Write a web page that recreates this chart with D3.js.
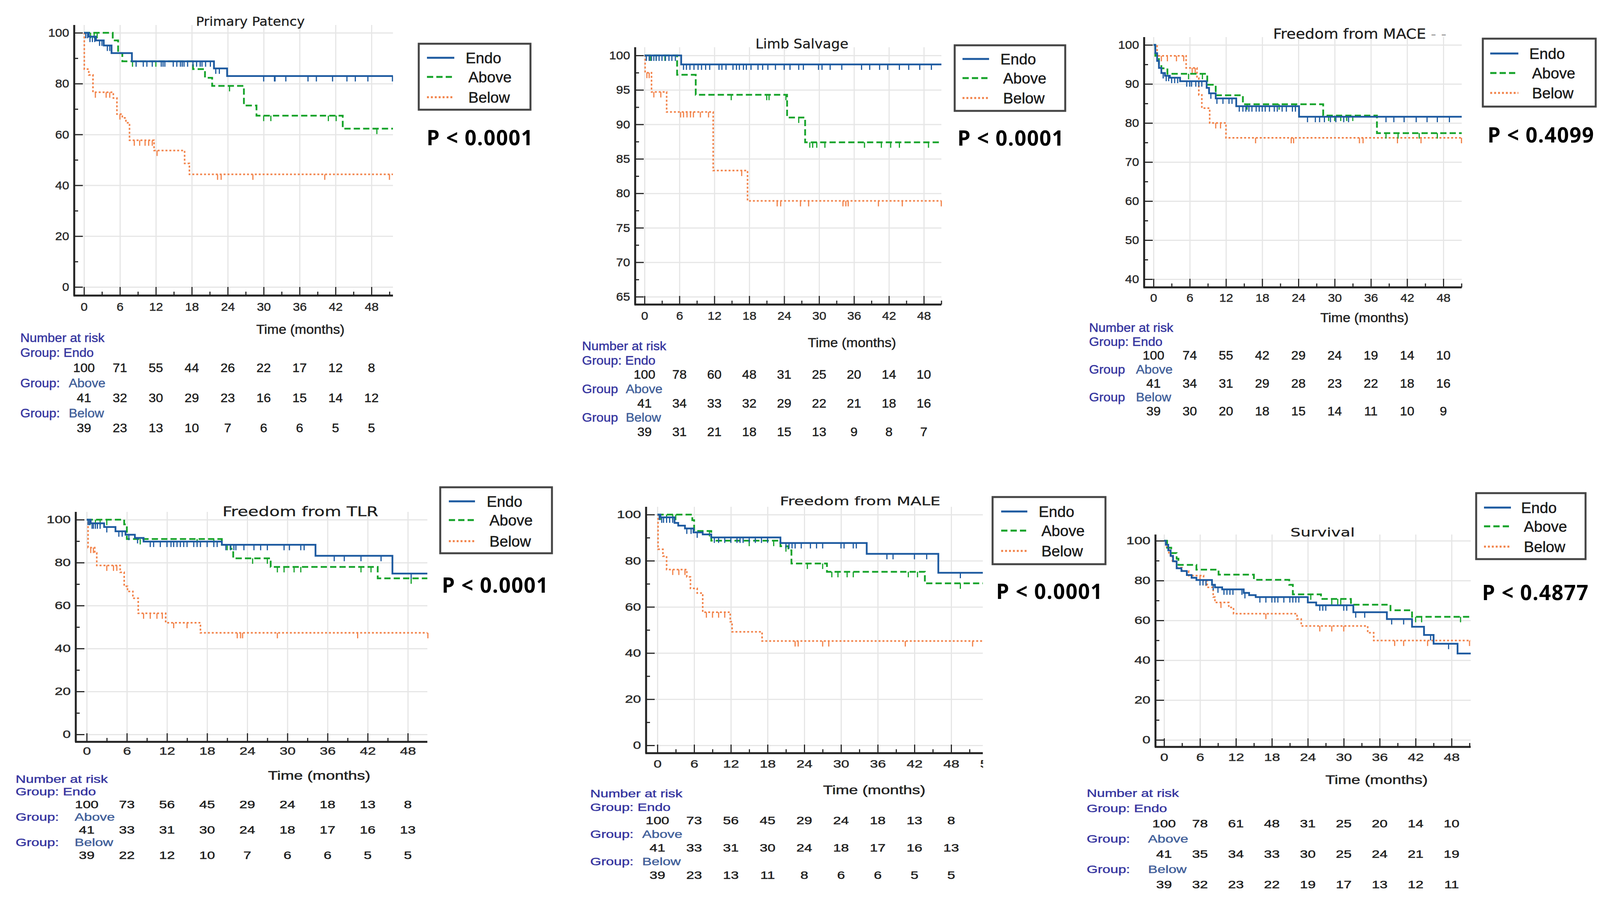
<!DOCTYPE html>
<html>
<head>
<meta charset="utf-8">
<script src="https://cdnjs.cloudflare.com/ajax/libs/d3/7.8.5/d3.min.js"></script>
<style>
  body { margin: 0; background: #fff; }
  svg { display: block; background: #fff; }
  .grid line { stroke: #e6e6e6; stroke-width: 3; }
  .grid .domain { display: none; }
  .ax .domain { display: none; }
  .ax line { stroke: #2a2a2a; stroke-width: 3; }
  .ax text { fill: #2a2a2a; stroke: #2a2a2a; stroke-width: 0.6; font-family: "Liberation Sans", Arial, sans-serif; }
  .heavy text { stroke-width: 0.6; }
</style>
</head>
<body>
<svg id="svg" width="4122" height="2323"></svg>
<script>
const GROUPS = ['Endo', 'Above', 'Below']
const MONTH_TICKS = [0, 6, 12, 18, 24, 30, 36, 42, 48]
const TITLES = ['Primary Patency', 'Limb Salvage', 'Freedom from MACE', 'Freedom from TLR', 'Freedom from MALE', 'Survival']
const P_VALUES = ['P < 0.0001', 'P < 0.0001', 'P < 0.4099', 'P < 0.0001', 'P < 0.0001', 'P < 0.4877']
const Y_TICKS_PCT = [0, 20, 40, 60, 80, 100]
const Y_TICKS_LIMB = [65, 70, 75, 80, 85, 90, 95, 100]
const Y_TICKS_MACE = [40, 50, 60, 70, 80, 90, 100]

// Kaplan-Meier steps: [month, % after the step]; censored times listed apart
const patencyEndo = [[0, 100], [0.8, 98.5], [2, 97], [3.3, 95], [4.6, 92], [8, 88.8], [21.7, 86], [23.9, 83]]
const patencyEndoCens = [0.3, 0.6, 1, 1.4, 1.8, 2.6, 3, 3.9, 4.3, 8.7, 9.9, 10.5, 11.4, 12.9, 13.2, 13.5, 14.9, 15.5, 16.1, 16.4, 16.7, 17.3, 18.2, 18.8, 19.4, 19.7, 20.3, 21.1, 22, 22.6, 30, 31.8, 31.9, 33.7, 37.4, 38.8, 41.5, 43.9, 45.3, 47.4, 51.5]
const patencyAbove = [[0, 100], [4.8, 97], [5.7, 92], [6.4, 88.8], [18.2, 85.7], [20.2, 82.3], [21.4, 79.1], [26.7, 71.4], [28.8, 67.4], [43.2, 62.3]]
const patencyAboveCens = [1.1, 1.7, 2.2, 8.1, 12, 24.3, 30, 31.2, 40.8, 42.1, 48.9]
const patencyBelow = [[0, 100], [0.05, 85.7], [0.8, 83.4], [1.5, 76.6], [4.9, 74.3], [5.5, 68], [6.4, 66.5], [7, 64.6], [7.6, 57.7], [11.7, 53.7], [16.8, 48.6], [17.6, 44.3]]
const patencyBelowCens = [1.9, 3.7, 4.3, 6, 8.4, 9.3, 10.2, 10.8, 11.4, 12.2, 22.3, 22.9, 28.2, 40.2, 51]
const patencyRisk = [[100, 71, 55, 44, 26, 22, 17, 12, 8], [41, 32, 30, 29, 23, 16, 15, 14, 12], [39, 23, 13, 10, 7, 6, 6, 5, 5]]

const limbEndo = [[0, 100], [6.3, 98.7]]
const limbEndoCens = [0.3, 0.8, 1.2, 1.6, 2, 2.5, 3, 3.6, 4.2, 4.7, 5.3, 6.7, 7.2, 7.8, 8.5, 9.2, 9.8, 10.5, 11.2, 12.8, 13.3, 14, 15.2, 15.8, 16.3, 17, 17.5, 18.3, 19.5, 20.3, 21.2, 22.5, 24, 25, 26.5, 27.3, 29.9, 30.5, 31.9, 33.9, 37.3, 38.7, 40.4, 41.8, 43.8, 45.4, 47.3, 49.3]
const limbAbove = [[0, 100], [5.6, 97.2], [8.8, 94.3], [24.5, 91], [27.6, 87.4]]
const limbAboveCens = [1, 2, 3.5, 14.9, 21, 21.4, 24.3, 26.5, 28.4, 28.9, 29.6, 31, 37.8, 40.7, 42.3, 43.8, 48.8]
const limbBelow = [[0, 100], [0.1, 97.5], [1.2, 94.7], [3.8, 91.8], [11.8, 83.3], [17.7, 78.9]]
const limbBelowCens = [0.4, 0.8, 1.6, 2.8, 6.2, 6.7, 7.3, 7.9, 8.4, 9.6, 11, 16.7, 22.8, 23.4, 26.8, 28.2, 34.1, 34.6, 35, 40.2, 44.3, 51]
const limbRisk = [[100, 78, 60, 48, 31, 25, 20, 14, 10], [41, 34, 33, 32, 29, 22, 21, 18, 16], [39, 31, 21, 18, 15, 13, 9, 8, 7]]

const maceEndo = [[0, 100], [0.3, 97.9], [0.6, 95.9], [0.9, 94.1], [1.3, 92.8], [1.9, 92.1], [2.7, 91.6], [4.4, 90.7], [8.8, 89], [9.2, 87.6], [10.3, 86.3], [13.7, 84.3], [24.1, 81.6]]
const maceEndoCens = [1.6, 2.1, 2.5, 3, 3.5, 4, 5.5, 6, 6.3, 7, 7.5, 8, 9.5, 10.5, 11.5, 12.5, 13, 14.2, 14.8, 15.3, 15.8, 16.3, 17, 17.5, 18, 18.5, 19.2, 20, 20.5, 21.3, 22, 23, 23.5, 25.5, 26.8, 27.5, 28.3, 29.3, 30.2, 31.5, 32.3, 38.5, 39.8, 41.5, 43.5, 45.3, 47, 49]
const maceAbove = [[0, 100], [0.3, 97.2], [0.9, 95.2], [1.3, 94], [2.3, 92.6], [8.9, 89.8], [10.3, 87.1], [14.8, 84.8], [28.1, 81.9], [37, 77.4]]
const maceAboveCens = [5.8, 8.1, 15.5, 20.8, 23.5, 29, 30, 31, 32, 33, 38.5, 40.5, 44, 47]
const maceBelow = [[0, 100], [0.6, 97.2], [5.4, 94.1], [7.2, 91.5], [7.5, 87.2], [8, 83.8], [9.3, 80], [12, 76.2]]
const maceBelowCens = [1.3, 2.3, 3.8, 5, 6.4, 6.9, 10.3, 11.1, 16.9, 22.8, 23.2, 34.1, 34.7, 40.4, 44.3, 51]
const maceRisk = [[100, 74, 55, 42, 29, 24, 19, 14, 10], [41, 34, 31, 29, 28, 23, 22, 18, 16], [39, 30, 20, 18, 15, 14, 11, 10, 9]]

const tlrEndo = [[0, 100], [0.6, 98.3], [2.6, 96.6], [4.3, 94.6], [5.8, 93], [7.2, 91.5], [8.5, 89.8], [20.2, 88.3], [34.2, 83.2], [45.7, 74.9]]
const tlrEndoCens = [0.2, 0.4, 0.8, 1, 1.3, 1.6, 2, 3, 4.8, 5.3, 6.3, 7.6, 9.5, 10, 11, 12, 12.6, 13, 13.5, 14, 14.5, 15, 16, 16.5, 17, 18, 19, 19.5, 20.8, 21.5, 22, 22.3, 23.5, 25, 26, 27, 29.5, 30.3, 32, 32.5, 37, 38.5, 41, 44, 48.5]
const tlrAbove = [[0, 100], [5.6, 97.8], [6, 91], [20.2, 88.3], [21.5, 86.4], [21.9, 82], [27.5, 78], [43.5, 72.7]]
const tlrAboveCens = [0.5, 1.3, 2, 3, 8, 16.5, 19, 21, 24.8, 27, 28.5, 29.5, 31, 32, 41, 42.5, 48.5]
const tlrBelow = [[0, 100], [0.2, 87], [1.2, 84.5], [1.5, 78.7], [5, 75.5], [5.6, 69], [6.1, 66.6], [6.9, 63.4], [7.7, 56.4], [11.8, 52], [17, 47.3]]
const tlrBelowCens = [0.6, 1, 3, 4, 4.5, 8.5, 9.5, 10.5, 11.3, 13, 15, 22.5, 23, 23.3, 28.5, 40.5, 51]
const tlrRisk = [[100, 73, 56, 45, 29, 24, 18, 13, 8], [41, 33, 31, 30, 24, 18, 17, 16, 13], [39, 22, 12, 10, 7, 6, 6, 5, 5]]

const maleEndo = [[0, 100], [0.5, 98.8], [2.8, 96.4], [3.4, 95.2], [4.5, 94], [5.9, 92.3], [7.4, 91.4], [8.8, 90.1], [20.1, 87.7], [34.2, 83], [45.9, 74.8]]
const maleEndoCens = [0.3, 0.7, 1, 1.5, 2, 2.5, 4.8, 5.5, 6.5, 9.3, 10, 11, 12, 13, 13.5, 14, 15, 16, 17, 18, 21, 21.5, 22, 22.5, 23.5, 25, 26, 27, 30, 30.5, 32, 32.5, 37.5, 38.5, 42, 44, 49.5]
const maleAbove = [[0, 100], [5.7, 97.6], [6, 92.9], [8.8, 88.7], [20.1, 86.3], [21.4, 84.5], [21.9, 78.8], [27.7, 75.2], [43.7, 70.2]]
const maleAboveCens = [0.5, 1.5, 2.5, 3, 8.5, 15, 19, 21, 24.5, 27, 28.5, 29.5, 31, 32, 41, 42.5, 49.5]
const maleBelow = [[0, 100], [0.1, 85], [0.9, 82], [1.5, 76.2], [4.8, 73], [5.4, 68], [6.5, 66], [7.4, 57.7], [11.9, 53.6], [12.2, 49.2], [17.1, 45.2]]
const maleBelowCens = [2.5, 3.5, 4.5, 8, 9, 10, 11, 22.5, 23, 27, 28, 40.5, 51.5]
const maleRisk = [[100, 73, 56, 45, 29, 24, 18, 13, 8], [41, 33, 31, 30, 24, 18, 17, 16, 13], [39, 23, 13, 11, 8, 6, 6, 5, 5]]

const survEndo = [[0, 100], [0.3, 98], [0.7, 95.2], [1.1, 92.4], [1.5, 89.7], [2.1, 86.2], [2.9, 84.8], [3.8, 82.8], [4.6, 81.4], [5.4, 80.3], [8, 77.9], [8.5, 76.6], [9.7, 75.6], [13.3, 73.8], [14.2, 72.7], [15.3, 71.7], [24, 69], [25.4, 67.6], [31.6, 64.1], [37.2, 60.7], [41.4, 56.8], [43.4, 52.7], [45, 48.3], [49, 43.4]]
const survEndoCens = [6, 6.5, 7, 8.2, 9, 10, 10.5, 11, 11.5, 13, 13.5, 16, 17, 18, 18.5, 19, 20, 21, 21.5, 22, 22.5, 26, 26.5, 27, 30, 30.5, 32, 33.5, 38, 40, 44.5, 47.5]
const survAbove = [[0, 100], [0.5, 96.5], [1.2, 93.8], [2.1, 91], [2.4, 87.9], [5.4, 85.5], [9.1, 83], [15, 80.4], [20.9, 77.9], [21.5, 73.1], [26.2, 70.8], [31.2, 67.9], [37.8, 65.1], [41.4, 61.8]]
const survAboveCens = [24.5, 28, 29, 29.5, 42, 43, 49.5]
const survBelow = [[0, 100], [0.3, 97], [0.8, 93], [1.4, 89.5], [2.1, 86.5], [3, 84.8], [4.1, 82.5], [6.6, 80], [7.2, 76.6], [8.2, 71.7], [8.5, 69], [10.8, 66.5], [11.6, 63.4], [22.2, 60.7], [22.9, 57.2], [34, 53.8], [35, 49.9]]
const survBelowCens = [6, 7, 9.5, 17, 26, 28, 30, 38.5, 40, 44, 51]
const survRisk = [[100, 78, 61, 48, 31, 25, 20, 14, 10], [41, 35, 34, 33, 30, 25, 24, 21, 19], [39, 32, 23, 22, 19, 17, 13, 12, 11]]

const CURVES = [
  [[patencyEndo, patencyEndoCens], [patencyAbove, patencyAboveCens], [patencyBelow, patencyBelowCens]],
  [[limbEndo, limbEndoCens], [limbAbove, limbAboveCens], [limbBelow, limbBelowCens]],
  [[maceEndo, maceEndoCens], [maceAbove, maceAboveCens], [maceBelow, maceBelowCens]],
  [[tlrEndo, tlrEndoCens], [tlrAbove, tlrAboveCens], [tlrBelow, tlrBelowCens]],
  [[maleEndo, maleEndoCens], [maleAbove, maleAboveCens], [maleBelow, maleBelowCens]],
  [[survEndo, survEndoCens], [survAbove, survAboveCens], [survBelow, survBelowCens]]
]
const RISKS = [patencyRisk, limbRisk, maceRisk, tlrRisk, maleRisk, survRisk]
const Y_TICKS = [Y_TICKS_PCT, Y_TICKS_LIMB, Y_TICKS_MACE, Y_TICKS_PCT, Y_TICKS_PCT, Y_TICKS_PCT]

// placement of each panel (pixels of the 4122x2323 page); st = horizontal stretch of the pasted image text
const TOP = { st: 1.07, tickFs: 30, narFs: 31, timeFs: 33 }
const BOT = { st: 1.32, tickFs: 28, narFs: 27.5, timeFs: 31 }
const LAYOUT = [
  { ...TOP, axisX: 190, axisTop: 64, x0: 215, x48: 951, right: 1006, yMin: 735, yMax: 84, axisY: 757, tickY: 785,
    title: [641, 55], titleFs: 32, legend: [1072, 112, 1358, 281], rows: [148, 197, 249], lineX: [1093, 1163], textX: 1192,
    p: [1092, 372], time: [769, 843], nar: [52, 865], step: 38.6, aboveX: 176, colon: true },
  { ...TOP, axisX: 1626, axisTop: 121, x0: 1650, x48: 2365, right: 2410, yMin: 760, yMax: 142, axisY: 780, tickY: 808,
    title: [2053, 112], titleFs: 33, legend: [2444, 116, 2727, 284], rows: [151, 200, 251], lineX: [2464, 2532], textX: 2561,
    p: [2451, 373], time: [2181, 877], nar: [1490, 886], step: 36.7, aboveX: 1602, colon: false },
  { ...TOP, axisX: 2929, axisTop: 95, x0: 2953, x48: 3695, right: 3742, yMin: 715, yMax: 115, axisY: 736, tickY: 762,
    title: [3481, 86], titleFs: 36, legend: [3796, 99, 4085, 273], rows: [137, 187, 238], lineX: [3815, 3887], textX: 3915,
    p: [3808, 365], time: [3493, 813], nar: [2788, 839], step: 35.7, aboveX: 2908, colon: false },
  { ...BOT, axisX: 194, axisTop: 1311, x0: 222, x48: 1044, right: 1094, yMin: 1881, yMax: 1331, axisY: 1900, tickY: 1923,
    title: [769, 1310], titleFs: 33, legend: [1127, 1248, 1413, 1417], rows: [1284, 1332, 1386], lineX: [1149, 1216], textX: 1246,
    p: [1131, 1518], time: [817, 1986], nar: [40, 1995], step: 32.5, aboveX: 191, colon: true },
  { ...BOT, axisX: 1654, axisTop: 1298, x0: 1683, x48: 2435, right: 2516, yMin: 1909, yMax: 1318, axisY: 1929, tickY: 1956,
    title: [2202, 1283], titleFs: 31, legend: [2541, 1273, 2830, 1445], rows: [1310, 1359, 1411], lineX: [2563, 2630], textX: 2659,
    p: [2550, 1534], time: [2238, 2023], nar: [1511, 2032], step: 34.9, aboveX: 1644, colon: true, cutTick: 54 },
  { ...BOT, axisX: 2958, axisTop: 1369, x0: 2980, x48: 3716, right: 3765, yMin: 1895, yMax: 1385, axisY: 1913, tickY: 1939,
    title: [3386, 1363], titleFs: 31, legend: [3779, 1263, 4059, 1432], rows: [1300, 1348, 1400], lineX: [3799, 3868], textX: 3894,
    p: [3794, 1537], time: [3524, 1997], nar: [2782, 2031], step: 39.1, aboveX: 2939, colon: true }
]

const COLORS = ['#1d5aa0', '#16a32a', '#f2834a']
const DASHES = [null, '16,8', '5,5']
const WIDTHS = [4.5, 4.5, 4]
const SANS = '"Liberation Sans", Arial, sans-serif'
const INK = '#3636a0'
const INK_LIGHT = '#41609a'

const svg = d3.select('#svg')

function levelAt (steps, t) {
  let v = 100
  steps.forEach(s => { if (s[0] <= t) v = s[1] })
  return v
}

// text placed at (x, y) and widened by st like the pasted original
function wideText (parent, x, y, st, str, color) {
  return parent.append('text')
    .attr('transform', 'translate(' + x + ',' + y + ') scale(' + st + ',1)')
    .attr('dy', '0.35em')
    .attr('fill', color)
    .attr('stroke', color)
    .text(str)
}

function drawPanel (idx) {
  const L = LAYOUT[idx]
  const yTicks = Y_TICKS[idx]
  const g = svg.append('g').attr('id', 'panel' + idx)
  const x = d3.scaleLinear().domain([0, 48]).range([L.x0, L.x48])
  const y = d3.scaleLinear().domain([yTicks[0], 100]).range([L.yMin, L.yMax])
  const xEnd = x.invert(L.right)

  // grid
  g.append('g').attr('class', 'grid')
    .attr('transform', 'translate(0,' + L.axisY + ')')
    .call(d3.axisBottom(x).tickValues(MONTH_TICKS).tickSize(-(L.axisY - L.axisTop)).tickFormat(''))
  g.append('g').attr('class', 'grid')
    .attr('transform', 'translate(' + L.axisX + ',0)')
    .call(d3.axisLeft(y).tickValues(yTicks).tickSize(-(L.right - L.axisX)).tickFormat(''))

  // minor ticks
  const minorX = d3.range(3, xEnd, 6)
  const yStep = yTicks[1] - yTicks[0]
  const minorY = yTicks.slice(0, -1).map(v => v + yStep / 2)
  g.append('g').attr('class', 'ax')
    .attr('transform', 'translate(0,' + L.axisY + ')')
    .call(d3.axisBottom(x).tickValues(minorX).tickSize(-10).tickFormat(''))
  g.append('g').attr('class', 'ax')
    .attr('transform', 'translate(' + L.axisX + ',0)')
    .call(d3.axisLeft(y).tickValues(minorY).tickSize(-10).tickFormat(''))

  // major ticks + labels
  const xTickVals = L.cutTick ? MONTH_TICKS.concat([L.cutTick]) : MONTH_TICKS
  const xa = g.append('g').attr('class', 'ax')
    .attr('transform', 'translate(0,' + L.axisY + ')')
    .call(d3.axisBottom(x).tickValues(xTickVals).tickSize(-22).tickFormat(d3.format('d')))
  xa.selectAll('text')
    .attr('y', 0).attr('dy', '0.35em')
    .attr('transform', 'translate(0,' + (L.tickY - L.axisY) + ') scale(' + L.st + ',1)')
    .attr('font-size', L.tickFs)
  if (L.cutTick) {
    const clipId = 'clip' + idx
    g.append('clipPath').attr('id', clipId)
      .append('rect').attr('x', 0).attr('y', -50).attr('width', L.right + 1).attr('height', 120)
    xa.attr('clip-path', 'url(#' + clipId + ')')
    xa.selectAll('.tick').filter(d => d === L.cutTick).select('line').remove()
  }
  const ya = g.append('g').attr('class', 'ax')
    .attr('transform', 'translate(' + L.axisX + ',0)')
    .call(d3.axisLeft(y).tickValues(yTicks).tickSize(-22))
  ya.selectAll('text')
    .attr('x', 0)
    .attr('transform', 'translate(-13,0) scale(' + L.st + ',1)')
    .attr('font-size', L.tickFs)

  // axis lines
  g.append('line')
    .attr('x1', L.axisX).attr('x2', L.axisX)
    .attr('y1', L.axisTop).attr('y2', L.axisY)
    .attr('stroke', '#222').attr('stroke-width', 5)
  g.append('line')
    .attr('x1', L.axisX - 2).attr('x2', L.right)
    .attr('y1', L.axisY).attr('y2', L.axisY)
    .attr('stroke', '#222').attr('stroke-width', 5)

  // curves, Below first so Endo sits on top
  const line = d3.line().x(d => x(d[0])).y(d => y(d[1])).curve(d3.curveStepAfter)
  for (let i = GROUPS.length - 1; i >= 0; --i) {
    const [steps, cens] = CURVES[idx][i]
    const pts = steps.concat([[xEnd, steps[steps.length - 1][1]]])
    g.append('path')
      .attr('d', line(pts))
      .attr('fill', 'none')
      .attr('stroke', COLORS[i])
      .attr('stroke-width', WIDTHS[i])
      .attr('stroke-dasharray', DASHES[i])
    g.append('g').selectAll('line').data(cens).join('line')
      .attr('x1', d => x(d)).attr('x2', d => x(d))
      .attr('y1', d => y(levelAt(steps, d)))
      .attr('y2', d => y(levelAt(steps, d)) + 14)
      .attr('stroke', COLORS[i])
      .attr('stroke-width', 3)
  }

  // title
  const title = wideText(g, L.title[0], L.title[1], L.st, TITLES[idx], '#1e1e1e')
    .attr('text-anchor', 'middle')
    .attr('font-family', '"DejaVu Sans", sans-serif')
    .attr('font-size', L.titleFs)
    .attr('stroke-width', 0.4)
  if (idx === 2) title.append('tspan').attr('fill', '#9a9a9a').attr('stroke', 'none').text(' - -')

  // legend
  const [lx1, ly1, lx2, ly2] = L.legend
  g.append('rect')
    .attr('x', lx1).attr('y', ly1)
    .attr('width', lx2 - lx1).attr('height', ly2 - ly1)
    .attr('fill', '#fff').attr('stroke', '#444').attr('stroke-width', 5)
  GROUPS.forEach((grp, i) => {
    g.append('line')
      .attr('x1', L.lineX[0]).attr('x2', L.lineX[1])
      .attr('y1', L.rows[i]).attr('y2', L.rows[i])
      .attr('stroke', COLORS[i]).attr('stroke-width', 5)
      .attr('stroke-dasharray', DASHES[i])
    g.append('text')
      .attr('x', L.textX + (i === 0 ? 0 : 7)).attr('y', L.rows[i])
      .attr('dy', '0.35em')
      .attr('font-family', SANS).attr('font-size', 39)
      .attr('fill', '#1a1a1a').attr('stroke', '#1a1a1a').attr('stroke-width', 0.6)
      .text(grp)
  })

  // p value
  g.append('text')
    .attr('x', L.p[0]).attr('y', L.p[1])
    .attr('font-family', '"Open Sans", Lato, sans-serif')
    .attr('font-weight', 700).attr('font-size', 53)
    .attr('textLength', 272).attr('lengthAdjust', 'spacing')
    .attr('fill', '#000')
    .text(P_VALUES[idx])

  // x-axis title
  wideText(g, L.time[0], L.time[1], L.st, 'Time (months)', '#222')
    .attr('text-anchor', 'middle')
    .attr('font-family', SANS).attr('font-size', L.timeFs)
    .attr('stroke-width', 0.6)

  // number at risk table
  const t = g.append('g').attr('class', 'heavy')
    .attr('font-family', SANS).attr('font-size', L.narFs)
  const rowY = k => L.nar[1] + k * L.step
  wideText(t, L.nar[0], rowY(0), L.st, 'Number at risk', INK)
  GROUPS.forEach((grp, i) => {
    const hy = rowY(1 + i * 2)
    if (i === 0) {
      wideText(t, L.nar[0], hy, L.st, 'Group: Endo', INK)
    } else {
      wideText(t, L.nar[0], hy, L.st, L.colon ? 'Group:' : 'Group', INK)
      wideText(t, L.aboveX, hy, L.st, grp, INK_LIGHT)
    }
    RISKS[idx][i].forEach((n, k) => {
      wideText(t, x(MONTH_TICKS[k]), rowY(2 + i * 2), L.st, n, '#1e1e1e')
        .attr('text-anchor', 'middle')
    })
  })
}

LAYOUT.forEach((L, i) => drawPanel(i))
</script>
</body>
</html>
